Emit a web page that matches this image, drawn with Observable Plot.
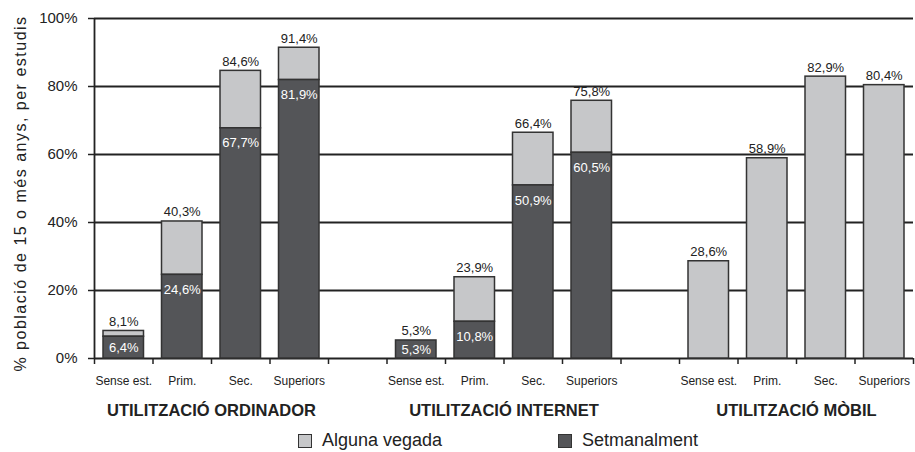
<!DOCTYPE html>
<html>
<head>
<meta charset="utf-8">
<script src="https://cdn.jsdelivr.net/npm/d3@7"></script>
<script src="https://cdn.jsdelivr.net/npm/@observablehq/plot@0.6"></script>
<style>
  body { margin: 0; background: #fff; font-family: "Liberation Sans", Arial, sans-serif; }
  #chart { width: 915px; }
  .legend { height: 27px; position: relative; font-size: 18px; color: #222; }
  .legend .item { position: absolute; top: 5px; display: flex; align-items: center; }
  .legend .sw { width: 14px; height: 14px; border: 1.5px solid #333; box-sizing: border-box; margin-right: 10px; }
</style>
</head>
<body>
<div id="chart"></div>
<script>
// ---- data ----
const groups = ["UTILITZACIÓ ORDINADOR", "UTILITZACIÓ INTERNET", "UTILITZACIÓ MÒBIL"];
const levels = ["Sense est.", "Prim.", "Sec.", "Superiors"];
const algunaVegada = [
  [8.1, 40.3, 84.6, 91.4],
  [5.3, 23.9, 66.4, 75.8],
  [28.6, 58.9, 82.9, 80.4]
];
const setmanalment = [
  [6.4, 24.6, 67.7, 81.9],
  [5.3, 10.8, 50.9, 60.5],
  [null, null, null, null]
];
const yTicks = [0, 20, 40, 60, 80, 100];
const seriesNames = ["Alguna vegada", "Setmanalment"];
const yTitle = "% població de 15 o més anys, per estudis";
const colors = ["#c6c7c9", "#545558"];

// ---- table ----
const slotsPerGroup = levels.length + 1;
const rows = [];
groups.forEach((g, gi) => levels.forEach((l, li) => {
  rows.push({group: g, level: l, slot: gi * slotsPerGroup + li,
             total: algunaVegada[gi][li], weekly: setmanalment[gi][li]});
}));
const nSlots = groups.length * slotsPerGroup - 1;
const fmt = v => v.toFixed(1).replace(".", ",") + "%";
const weeklyRows = rows.filter(d => d.weekly != null);

const chart = Plot.plot({
  width: 915,
  height: 425,
  marginLeft: 94,
  marginRight: 2,
  marginTop: 18,
  marginBottom: 67,
  style: {fontFamily: "'Liberation Sans', Arial, sans-serif", color: "#222", background: "#fff"},
  x: {type: "linear", domain: [0, nSlots], axis: null},
  y: {domain: [0, 100], axis: null},
  marks: [
    Plot.ruleY(yTicks, {stroke: "#222", strokeWidth: 1.8}),
    Plot.axisY({ticks: yTicks, tickFormat: d => d + "%", tickSize: 6, tickPadding: 11,
                fontSize: 15, stroke: "#222", strokeWidth: 1.5, label: null}),
    Plot.axisX({ticks: d3.range(nSlots + 1), tickFormat: () => "", tickSize: 6,
                stroke: "#222", strokeWidth: 1.5, label: null}),
    Plot.ruleX([0], {stroke: "#222", strokeWidth: 1.8}),
    // light part (Alguna vegada)
    Plot.rectY(rows, {x1: "slot", x2: d => d.slot + 1, y1: d => d.weekly ?? 0, y2: "total",
                      insetLeft: 9, insetRight: 9, fill: colors[0], stroke: "#333", strokeWidth: 1.5}),
    // dark part (Setmanalment)
    Plot.rectY(weeklyRows, {x1: "slot", x2: d => d.slot + 1, y1: 0, y2: "weekly",
                      insetLeft: 9, insetRight: 9, fill: colors[1], stroke: "#333", strokeWidth: 1.5}),
    // total labels
    Plot.text(rows, {x: d => d.slot + 0.5, y: "total", text: d => fmt(d.total),
                     lineAnchor: "bottom", dy: -5, fontSize: 13, fill: "#222"}),
    // weekly labels
    Plot.text(weeklyRows.filter(d => d.weekly > 8.8), {x: d => d.slot + 0.5, y: "weekly", text: d => fmt(d.weekly),
                     dy: 15, fontSize: 13, fill: "#fff"}),
    Plot.text(weeklyRows.filter(d => d.weekly <= 8.8), {x: d => d.slot + 0.5, y: d => d.weekly / 2, text: d => fmt(d.weekly),
                     fontSize: 13, fill: "#fff"}),
    // x category labels
    Plot.text(rows, {x: d => d.slot + 0.5, y: 0, text: "level", dy: 23, fontSize: 12, fill: "#222"}),
    // group labels
    Plot.text(groups, {x: (d, i) => i * slotsPerGroup + levels.length / 2, y: 0, text: d => d,
                       dy: 52, fontSize: 16.5, fontWeight: "bold", fill: "#222"}),
    // y axis title
    Plot.text([yTitle], {frameAnchor: "left", rotate: -90,
                       textAnchor: "middle", dx: -74, dy: 5, fontSize: 16, fill: "#222",
                       text: d => d})
  ]
});
d3.select(chart).selectAll("text").filter(function() { return this.textContent === yTitle; })
  .attr("letter-spacing", "1.5px");
document.getElementById("chart").appendChild(chart);

// legend
const legend = document.createElement("div");
legend.className = "legend";
const legendX = [298, 558];
seriesNames.forEach((name, i) => {
  const item = document.createElement("div");
  item.className = "item";
  item.style.left = legendX[i] + "px";
  const sw = document.createElement("span");
  sw.className = "sw";
  sw.style.background = colors[i];
  item.appendChild(sw);
  item.appendChild(document.createTextNode(name));
  legend.appendChild(item);
});
document.getElementById("chart").appendChild(legend);
</script>
</body>
</html>
